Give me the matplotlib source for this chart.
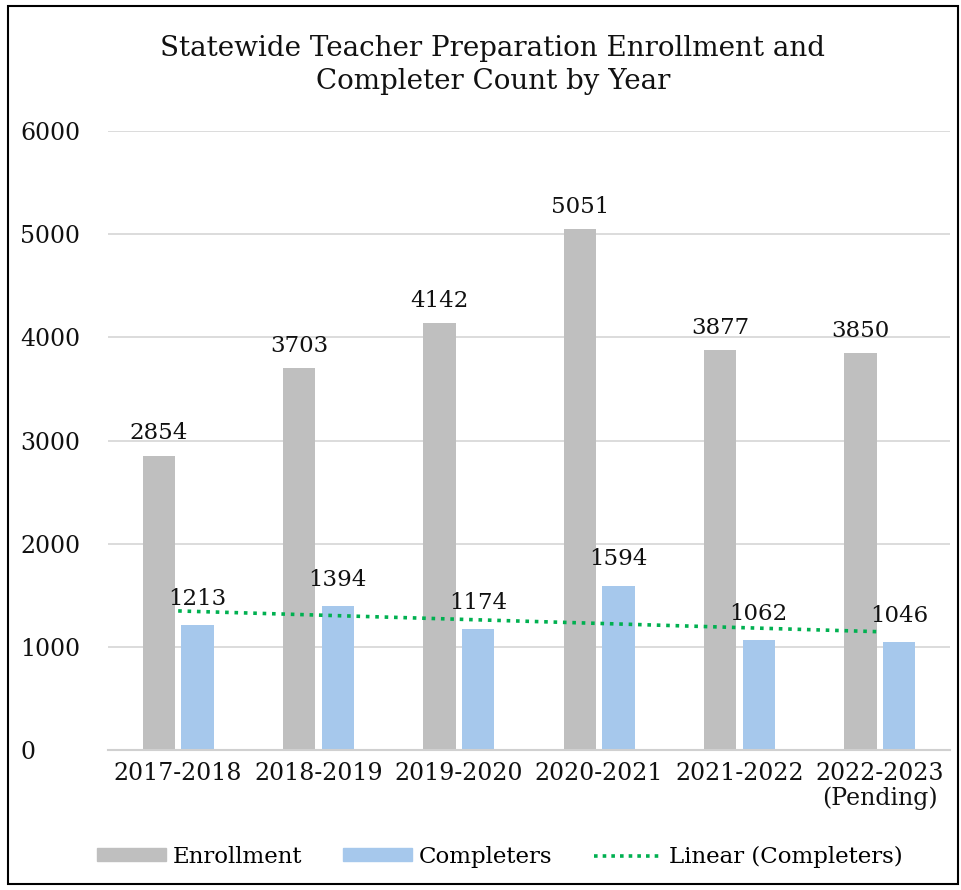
import matplotlib.pyplot as plt
import numpy as np
from matplotlib.patches import Rectangle
from matplotlib.lines import Line2D

years = ['2017-2018', '2018-2019', '2019-2020', '2020-2021', '2021-2022', '2022-2023\n(Pending)']
enrollment = [2854, 3703, 4142, 5051, 3877, 3850]
completers = [1213, 1394, 1174, 1594, 1062, 1046]

plt.rcParams['font.family'] = ['DejaVu Serif']

W, H = 961, 890
fig = plt.figure(figsize=(W / 100, H / 100), dpi=100)
ax = fig.add_axes([108 / W, 1 - 750 / H, (950 - 108) / W, (750 - 131) / H])

x = np.arange(len(years))
bw = 0.23
ax.bar(x - 0.137, enrollment, bw, color='#bfbfbf', zorder=2)
ax.bar(x + 0.137, completers, bw, color='#a6c8ec', zorder=2)

for xi, v in zip(x, enrollment):
    ax.annotate(str(v), (xi - 0.137, v), xytext=(0, 8), textcoords='offset points',
                ha='center', va='bottom', fontsize=16.5, color='#111111')
for xi, v in zip(x, completers):
    ax.annotate(str(v), (xi + 0.137, v), xytext=(0, 11), textcoords='offset points',
                ha='center', va='bottom', fontsize=16.5, color='#111111')

# linear trend of completers
k, b = np.polyfit(x, completers, 1)
ax.plot(x, k * x + b, color='#00b050', linestyle=(0, (1, 1.6)), linewidth=2.6, zorder=3)

ax.set_xlim(-0.5, len(years) - 0.5)
ax.set_ylim(0, 6000)
ax.set_yticks(range(0, 6001, 1000))
ax.yaxis.grid(True, color='#d9d9d9', linewidth=1.3, zorder=0)
ax.set_axisbelow(True)
for s in ['top', 'right', 'left']:
    ax.spines[s].set_visible(False)
ax.spines['bottom'].set_color('#d0d0d0')
ax.spines['bottom'].set_linewidth(1.5)
ax.tick_params(axis='both', length=0, labelsize=17, colors='#111111')
ax.tick_params(axis='y', pad=63)
ax.tick_params(axis='x', pad=9)
ax.set_xticks(x)
ax.set_xticklabels(years, linespacing=1.05)
for lab in ax.get_yticklabels():
    lab.set_horizontalalignment('left')

fig.text(493 / W, 1 - 65 / H, 'Statewide Teacher Preparation Enrollment and\nCompleter Count by Year',
         ha='center', va='center', fontsize=20, color='#111111', linespacing=1.25)

handles = [Rectangle((0, 0), 1, 1, color='#bfbfbf'),
           Rectangle((0, 0), 1, 1, color='#a6c8ec'),
           Line2D([0], [0], color='#00b050', linestyle=(0, (1, 1.4)), linewidth=2.6)]
fig.legend(handles, ['Enrollment', 'Completers', 'Linear (Completers)'],
           loc='center', bbox_to_anchor=(500 / W, 1 - 857 / H), ncol=3, frameon=False,
           fontsize=16.5, handlelength=3.0, handleheight=0.5, columnspacing=1.8,
           handletextpad=0.3)

fig.add_artist(Rectangle((8 / W, 6 / H), 950 / W, 878 / H, transform=fig.transFigure,
                         fill=False, edgecolor='black', linewidth=1.5))

fig.savefig('out.png', dpi=100)
